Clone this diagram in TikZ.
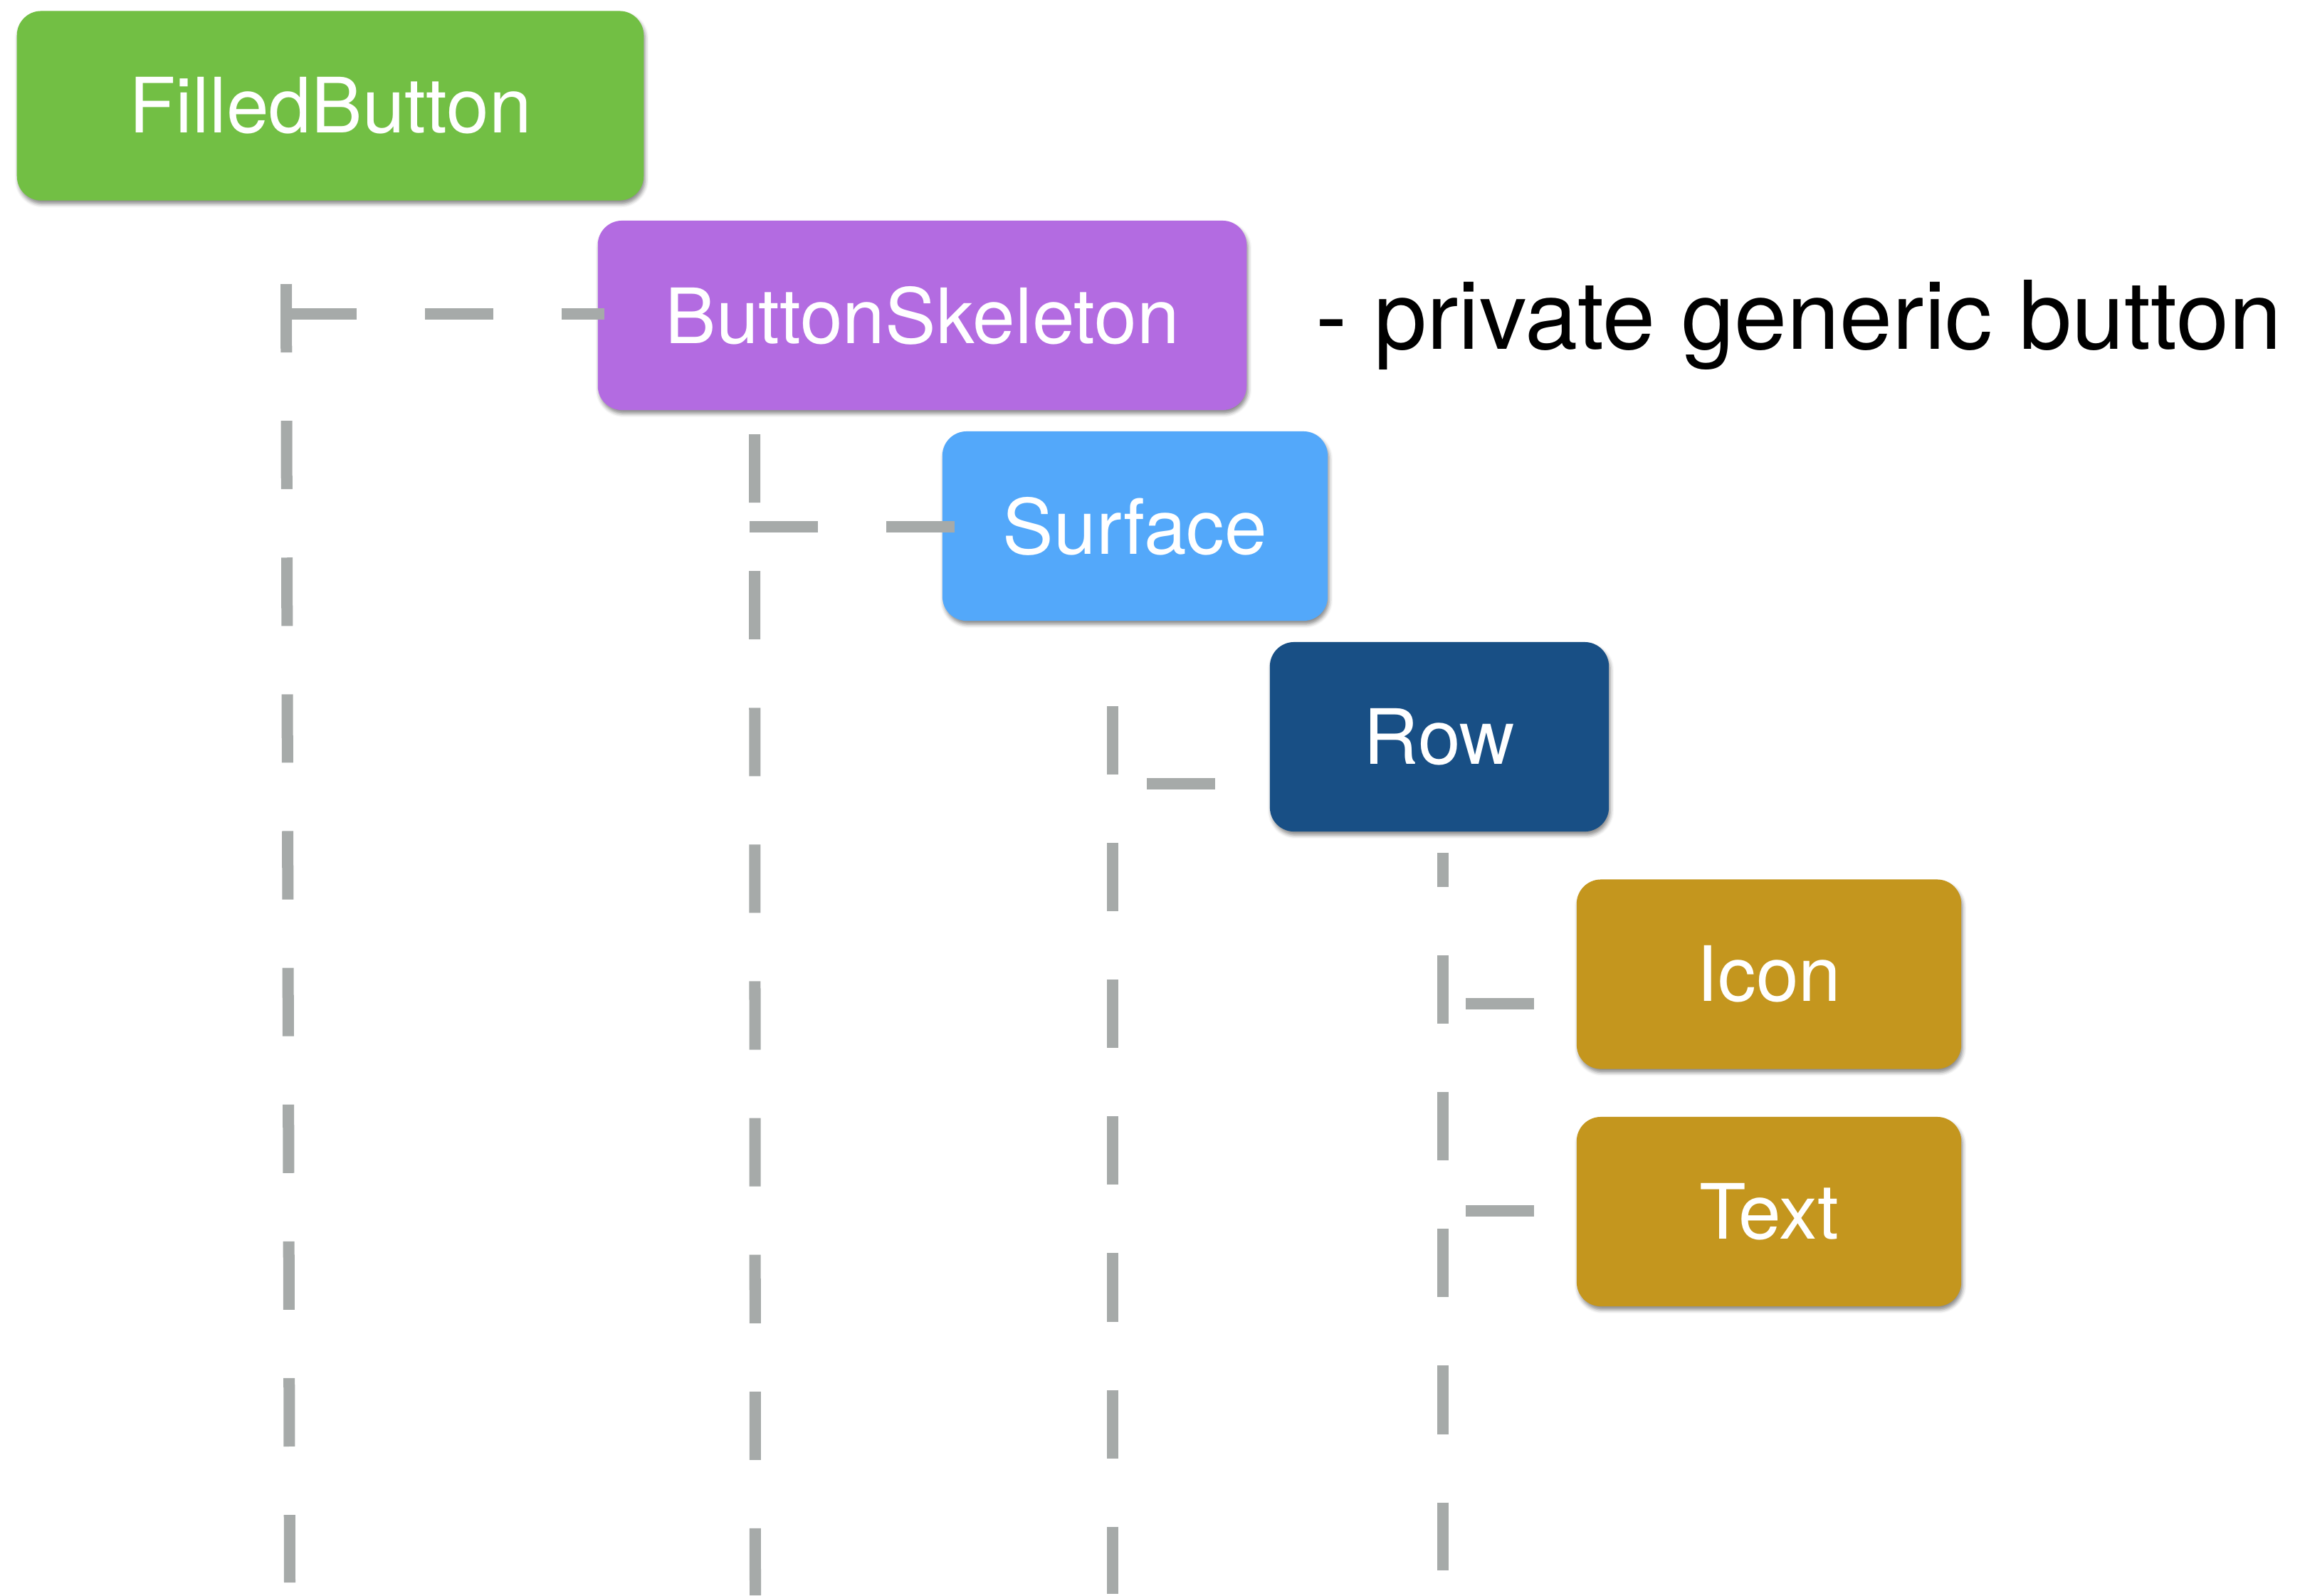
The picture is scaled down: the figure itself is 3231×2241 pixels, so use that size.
\documentclass[tikz,border=0pt]{standalone}
\usepackage{fontspec}
\setmainfont{TeX Gyre Heros}
\usetikzlibrary{shadows.blur}

\definecolor{fbgreen}{RGB}{114,191,68}
\definecolor{skelpurple}{RGB}{179,107,225}
\definecolor{surfblue}{RGB}{83,168,250}
\definecolor{rowblue}{RGB}{24,79,133}
\definecolor{leafgold}{RGB}{196,150,30}
\definecolor{guidegray}{RGB}{166,170,169}

\begin{document}
\begin{tikzpicture}[x=0.01cm, y=-0.01cm,
  widget/.style={rectangle, rounded corners=0.34cm, minimum height=2.66cm,
    inner sep=0pt, text=white, font=\fontsize{30.5}{36}\selectfont,
    blur shadow={shadow xshift=0.02cm, shadow yshift=-0.05cm,
      shadow blur radius=0.05cm, shadow opacity=45}},
  guide/.style={draw=guidegray, line width=0.16cm,
    dash pattern=on 0.96cm off 0.96cm},
]
\useasboundingbox (0,0) rectangle (3231,2241);

% widget tree boxes
\node[widget, fill=fbgreen,    minimum width=8.80cm] (filled) at (464,148.5)  {FilledButton};
\node[widget, fill=skelpurple, minimum width=9.11cm] (skel)   at (1295.5,443) {ButtonSkeleton};
\node[widget, fill=surfblue,   minimum width=5.41cm] (surf)   at (1594.5,739) {Surface};
\node[widget, fill=rowblue,    minimum width=4.76cm] (row)    at (2022,1035)  {Row};
\node[widget, fill=leafgold,   minimum width=5.40cm] (icon)   at (2485,1368.5){Icon};
\node[widget, fill=leafgold,   minimum width=5.40cm] (txt)    at (2485,1702)  {Text};

% side note
\node[anchor=base west, inner sep=0pt, font=\fontsize{37.9}{45}\selectfont] (note)
  at (1848,490) {- private generic button};

% vertical trunks
\coordinate (t1a) at (402,399);  \coordinate (t1b) at (407,2223);
\coordinate (t2a) at (1060,610); \coordinate (t2b) at (1061,2241);
\coordinate (t3a) at (1563,992); \coordinate (t3b) at (1563,2239);
\coordinate (t4a) at (2027,1198);\coordinate (t4b) at (2027,2206);
\draw[guide] (t1a) -- (t1b);
\draw[guide] (t2a) -- (t2b);
\draw[guide] (t3a) -- (t3b);
\draw[guide, dash phase=0.48cm] (t4a) -- (t4b);

% branches from trunks to children
\coordinate (b1) at (405,441);
\coordinate (b2) at (1053,740);
\coordinate (b3) at (1563,1101);
\coordinate (b4) at (2027,1410);
\coordinate (b5) at (2027,1701);
\draw[guide, shorten >=-0.1cm] (b1) -- (b1 -| skel.west);
\draw[guide, shorten >=-0.18cm] (b2) -- (b2 -| surf.west);
\draw[guide, dash phase=1.44cm] (b3) -- (b3 -| row.west);
\draw[guide, dash phase=1.60cm] (b4) -- (b4 -| icon.west);
\draw[guide, dash phase=1.60cm] (b5) -- (b5 -| txt.west);
\end{tikzpicture}
\end{document}
